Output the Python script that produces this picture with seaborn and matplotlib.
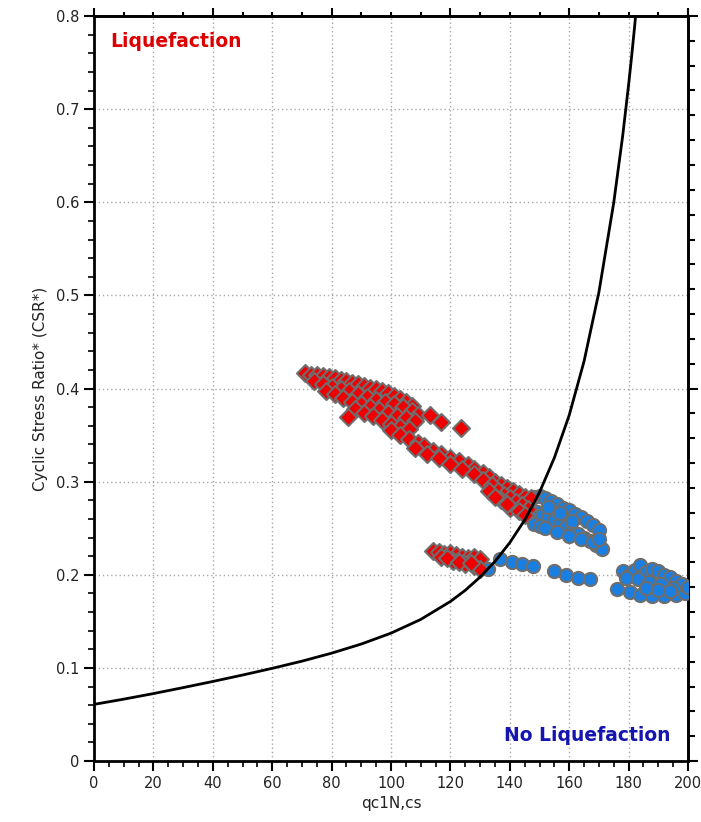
import numpy as np
import pandas as pd
import matplotlib
matplotlib.use("Agg")
import matplotlib.pyplot as plt
import seaborn as sns
from matplotlib.ticker import MultipleLocator, NullFormatter

# ---- data ----
curve_q = [0, 10, 20, 30, 40, 50, 60, 70, 80, 90, 100, 110, 120, 125, 130, 135,
           140, 145, 150, 155, 160, 165, 170, 175, 178, 180, 181, 182, 183]
curve_csr = [0.0608, 0.0664, 0.0724, 0.0788, 0.0854, 0.0923, 0.0995, 0.1072, 0.1158,
             0.1256, 0.1373, 0.1520, 0.1713, 0.1833, 0.1975, 0.2142, 0.2345, 0.2587,
             0.2885, 0.3256, 0.3713, 0.4292, 0.5034, 0.5996, 0.6711, 0.7261, 0.7560,
             0.7879, 0.8215]

liq_q = [71, 73, 75, 77, 79, 81, 83, 85, 87, 89, 91, 93, 95, 97, 99, 101, 103, 105, 107,
         74, 77, 80, 83, 86, 89, 92, 95, 98, 101, 104, 107, 109,
         78, 81, 84, 87, 90, 93, 96, 99, 102, 105, 108,
         88, 91, 94, 97, 100, 103, 106,
         85.5, 113, 117, 123.5,
         100, 103, 106, 109, 111, 114, 117, 120, 123, 126, 128, 131, 133, 135, 137, 139,
         141, 143, 145, 147,
         108, 112, 116, 120, 124, 128, 131, 134, 136, 138, 140, 142, 144, 146,
         133, 137, 140, 143, 145, 135, 139,
         114, 116, 118, 120, 122, 124, 126, 128, 130, 117, 121, 125, 128, 130, 119, 123, 127]
liq_csr = [0.417, 0.415, 0.414, 0.413, 0.412, 0.411, 0.409, 0.408, 0.406, 0.405, 0.403,
           0.401, 0.399, 0.397, 0.395, 0.392, 0.389, 0.386, 0.381,
           0.408, 0.405, 0.402, 0.399, 0.397, 0.394, 0.391, 0.388, 0.386, 0.383, 0.380,
           0.376, 0.372,
           0.397, 0.394, 0.390, 0.386, 0.383, 0.380, 0.377, 0.374, 0.371, 0.368, 0.365,
           0.378, 0.374, 0.370, 0.366, 0.362, 0.359, 0.357,
           0.369, 0.372, 0.364, 0.358,
           0.355, 0.350, 0.346, 0.342, 0.338, 0.333, 0.330, 0.325, 0.322, 0.318, 0.314,
           0.309, 0.305, 0.300, 0.296, 0.293, 0.290, 0.287, 0.284, 0.282,
           0.336, 0.330, 0.325, 0.319, 0.314, 0.308, 0.302, 0.296, 0.290, 0.286, 0.282,
           0.278, 0.275, 0.271,
           0.290, 0.280, 0.272, 0.268, 0.264, 0.283, 0.276,
           0.226, 0.224, 0.222, 0.223, 0.221, 0.219, 0.218, 0.219, 0.217, 0.219, 0.215,
           0.212, 0.209, 0.206, 0.218, 0.214, 0.213]

noliq_q = [148, 150, 152, 154, 156, 158, 160, 162, 164, 166, 168, 170,
           147, 149, 151, 153, 155, 157, 159, 161, 163, 165, 167, 169, 171,
           148, 150, 152, 156, 160, 164, 168, 170, 153, 157, 161,
           132.7, 136.7, 140.7, 144, 147.8, 155, 159, 163, 167,
           176, 180.5, 184, 188, 192, 196, 199, 178, 180, 182, 184, 186, 188, 190, 192,
           194, 196, 198, 200, 183, 187, 191, 195, 186, 190, 194, 179]
noliq_csr = [0.283, 0.285, 0.282, 0.279, 0.276, 0.272, 0.269, 0.265, 0.262, 0.258, 0.253,
             0.248,
             0.270, 0.267, 0.264, 0.262, 0.259, 0.255, 0.251, 0.247, 0.244, 0.240, 0.236,
             0.232, 0.228,
             0.255, 0.252, 0.250, 0.246, 0.242, 0.238, 0.235, 0.238, 0.273, 0.266, 0.258,
             0.206, 0.217, 0.214, 0.212, 0.209, 0.204, 0.200, 0.197, 0.195,
             0.185, 0.182, 0.178, 0.177, 0.177, 0.178, 0.180, 0.204, 0.200, 0.205, 0.211,
             0.203, 0.206, 0.204, 0.200, 0.198, 0.193, 0.190, 0.187, 0.195, 0.192, 0.190,
             0.186, 0.186, 0.184, 0.183, 0.196]

x_ticks = [0, 20, 40, 60, 80, 100, 120, 140, 160, 180, 200]
y_ticks = [0, 0.1, 0.2, 0.3, 0.4, 0.5, 0.6, 0.7, 0.8]
y_tick_labels = ["0", "0.1", "0.2", "0.3", "0.4", "0.5", "0.6", "0.7", "0.8"]

# ---- plotting ----
sns.set_theme(style="white")
plt.rcParams['font.family'] = ['DejaVu Sans']

fig = plt.figure(figsize=(7.01, 8.22), dpi=100)
ax = fig.add_axes([94 / 701, 1 - 761 / 822, (688 - 94) / 701, (761 - 16) / 822])

liq = pd.DataFrame({"q": liq_q, "csr": liq_csr})
noliq = pd.DataFrame({"q": noliq_q, "csr": noliq_csr})
curve = pd.DataFrame({"q": curve_q, "csr": curve_csr})

sns.scatterplot(data=noliq, x="q", y="csr", ax=ax, marker="o", s=90,
                color="#1a7fe0", edgecolor="#6e6e6e", linewidth=1.5, zorder=3)
sns.scatterplot(data=liq, x="q", y="csr", ax=ax, marker="D", s=75,
                color="#ee0000", edgecolor="#6e6e6e", linewidth=1.5, zorder=4)
sns.lineplot(data=curve, x="q", y="csr", ax=ax, color="black", linewidth=2.0,
             sort=False, zorder=5)

ax.set_xlim(0, 200)
ax.set_ylim(0, 0.8)
ax.set_xticks(x_ticks)
ax.set_xticklabels([str(v) for v in x_ticks])
ax.set_yticks(y_ticks)
ax.set_yticklabels(y_tick_labels)
ax.xaxis.set_minor_locator(MultipleLocator(5))
ax.yaxis.set_minor_locator(MultipleLocator(0.02))

ax.grid(True, which="major", color="#a8a8a8", linestyle=(0, (1, 2)), linewidth=1.0)
ax.set_axisbelow(True)

for side in ["left", "bottom", "top", "right"]:
    ax.spines[side].set_visible(True)
    ax.spines[side].set_color("black")
    ax.spines[side].set_linewidth(2.0)

ax.tick_params(axis="both", which="major", direction="out", length=7, width=1.5,
               colors="black", labelsize=10.5, labelcolor="#222222",
               top=False, right=False, bottom=True, left=True)
ax.tick_params(axis="both", which="minor", direction="out", length=4, width=1.2,
               colors="black", top=False, right=False, bottom=True, left=True)

# top and right tick marks (no labels) as in the reference
top = ax.secondary_xaxis("top")
top.set_xticks([0, 40, 80, 120, 160, 200])
top.xaxis.set_minor_locator(MultipleLocator(10))
top.xaxis.set_major_formatter(NullFormatter())
top.tick_params(which="major", direction="out", length=6, width=1.5, colors="black")
top.tick_params(which="minor", direction="out", length=3, width=1.5, colors="black")
top.spines["top"].set_linewidth(2.0)

right = ax.secondary_yaxis("right")
right.set_yticks([0, 0.4, 0.8])
right.yaxis.set_minor_locator(MultipleLocator(0.8 / 30))
right.yaxis.set_major_formatter(NullFormatter())
right.tick_params(which="major", direction="out", length=7, width=1.5, colors="black")
right.tick_params(which="minor", direction="out", length=5, width=1.5, colors="black")
right.spines["right"].set_linewidth(2.0)

ax.set_xlabel("qc1N,cs", fontsize=11, color="#222222", labelpad=4)
ax.set_ylabel("Cyclic Stress Ratio* (CSR*)", fontsize=11, color="#222222", labelpad=6)

ax.text(0.027, 0.966, "Liquefaction", transform=ax.transAxes, color="#dd0000",
        fontsize=13.5, fontweight="bold", ha="left", va="center")
ax.text(0.97, 0.034, "No Liquefaction", transform=ax.transAxes, color="#1515b0",
        fontsize=13.5, fontweight="bold", ha="right", va="center")

fig.savefig("out.png", dpi=100)
